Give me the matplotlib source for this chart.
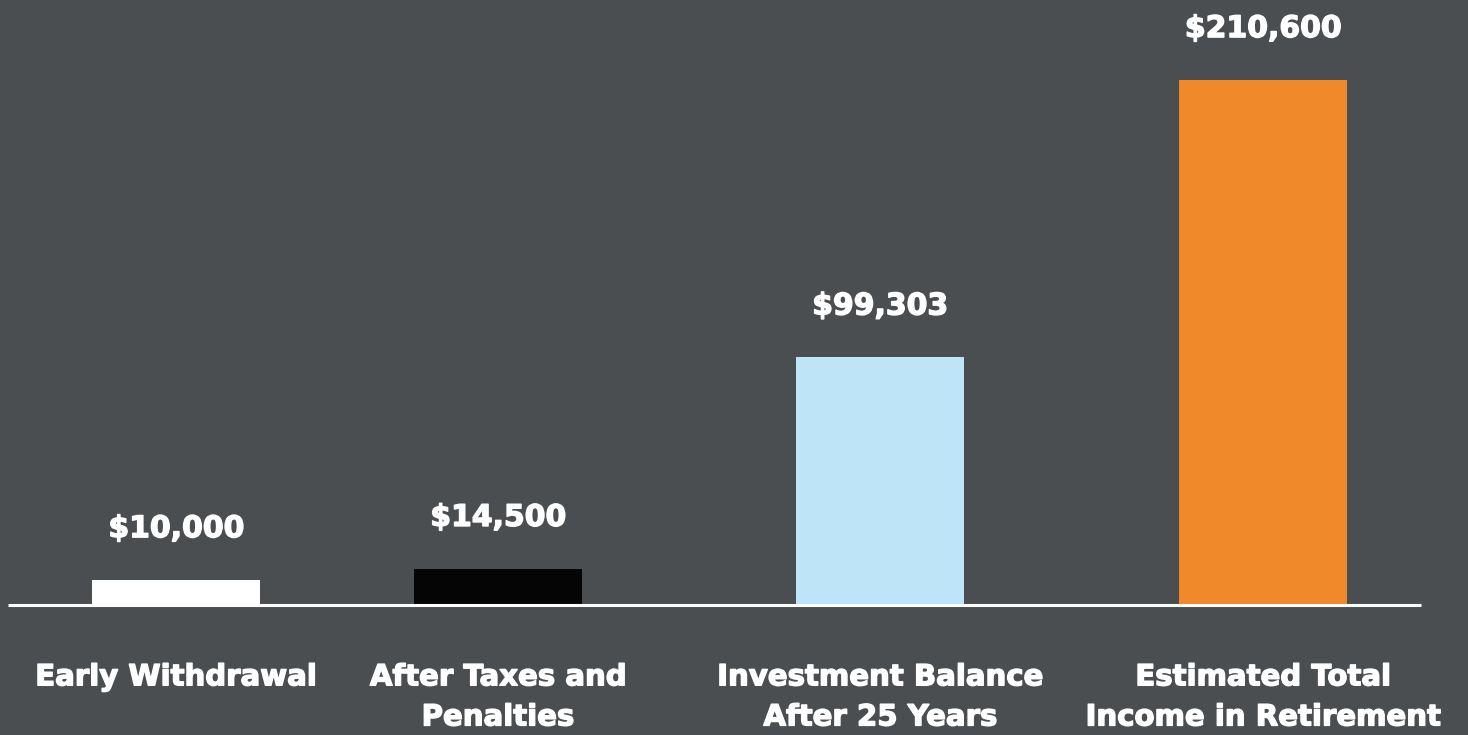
import matplotlib.pyplot as plt
import matplotlib.patheffects as pe

# data
categories = ["Early Withdrawal", "After Taxes and\nPenalties",
              "Investment Balance\nAfter 25 Years", "Estimated Total\nIncome in Retirement"]
values = [10000, 14500, 99303, 210600]
value_labels = ["$10,000", "$14,500", "$99,303", "$210,600"]

# layout (pixel positions of bar centres)
xpos = [176, 498, 880, 1263]
colors = ["#ffffff", "#050505", "#bde4f7", "#f0892a"]
bg = "#4a4e51"

plt.rcParams['font.family'] = ['DejaVu Sans']
heavy = [pe.withStroke(linewidth=1.0, foreground='white')]

fig = plt.figure(figsize=(14.68, 7.35), dpi=100, facecolor=bg)
ax = fig.add_axes([0, 130/735, 1, 605/735])
ax.set_facecolor(bg)
ax.set_xlim(0, 1468)
ax.set_ylim(0, 210600 * 605 / 525)

ax.bar(xpos, values, width=168, color=colors, zorder=2)
ax.plot([8, 1421], [0, 0], color="#ffffff", lw=2.2, zorder=3, clip_on=False,
        solid_capstyle='butt')

for x, v, t in zip(xpos, values, value_labels):
    ax.annotate(t, (x, v), xytext=(0, 37), textcoords='offset points',
                ha='center', va='center', color='white', fontsize=21.5, fontweight='bold',
                path_effects=heavy)

for x, c in zip(xpos, categories):
    ax.annotate(c, (x, 0), xytext=(0, -42), textcoords='offset points',
                ha='center', va='top', color='white', fontsize=21, fontweight='bold',
                linespacing=1.55, annotation_clip=False, path_effects=heavy)

ax.axis('off')
fig.savefig("out.png", dpi=100, facecolor=bg)
